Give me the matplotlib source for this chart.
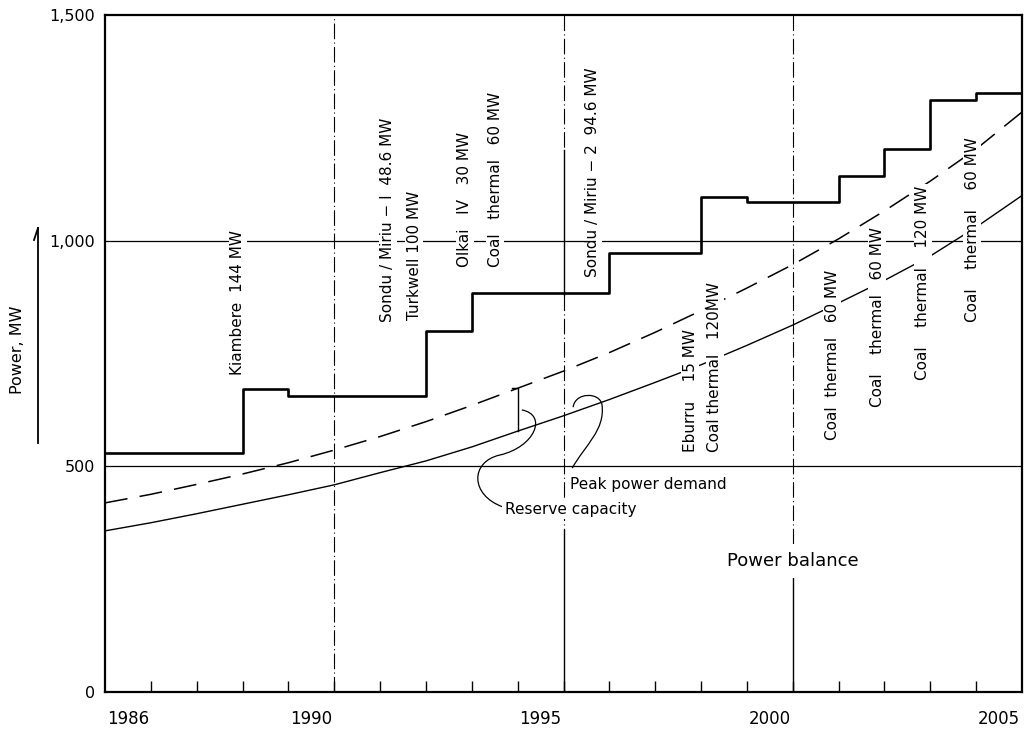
import matplotlib
matplotlib.use('Agg')
import matplotlib.pyplot as plt
from matplotlib.path import Path
from matplotlib.patches import PathPatch

# installed capacity, MW (value held through each year)
cap_years = [1986, 1987, 1988, 1989, 1990, 1991, 1992, 1993, 1994, 1995,
             1996, 1997, 1998, 1999, 2000, 2001, 2002, 2003, 2004, 2005]
cap_mw = [530, 530, 530, 671, 656, 656, 656, 800, 885, 885,
          885, 973, 973, 1097, 1086, 1086, 1143, 1203, 1312, 1327]

# demand forecast, MW, at the start of each year
dem_years = [1986, 1987, 1988, 1989, 1990, 1991, 1992, 1993, 1994, 1995, 1996,
             1997, 1998, 1999, 2000, 2001, 2002, 2003, 2004, 2005, 2006]
peak_mw = [357, 375, 395, 416, 437, 459, 486, 512, 543, 578, 612,
           648, 686, 725, 768, 813, 862, 912, 966, 1030, 1100]
reserve_mw = [419, 438, 460, 483, 508, 536, 566, 599, 635, 673, 711,
              752, 797, 845, 895, 947, 1004, 1066, 1132, 1203, 1285]

# generation additions
add_labels = ['Kiambere  144 MW',
              'Sondu / Miriu − I  48.6 MW',
              'Turkwell 100 MW',
              'Olkai   IV   30 MW',
              'Coal   thermal   60 MW',
              'Sondu / Miriu − 2  94.6 MW',
              'Eburru    15 MW',
              'Coal thermal   120MW',
              'Coal  thermal   60 MW',
              'Coal    thermal   60 MW',
              'Coal    thermal    120 MW',
              'Coal    thermal    60 MW']
add_pos = [(1988.90, 702), (1992.17, 820), (1992.74, 824), (1993.85, 942),
           (1994.51, 942), (1996.64, 920), (1998.76, 532), (1999.30, 532),
           (2001.86, 558), (2002.84, 631), (2003.84, 691), (2004.91, 820)]

tick_years = [1986, 1990, 1995, 2000, 2005]

fig = plt.figure(figsize=(10.31, 7.33), dpi=100)
ax = fig.add_axes([105/1031, 41/733, 917/1031, 677/733])
ax.set_xlim(1986, 2006)
ax.set_ylim(0, 1500)

# grid
dashdot = (0, (14, 3, 1, 3))
for v in (500, 1000):
    ax.axhline(v, color='black', lw=0.9, zorder=1)
ax.axvline(1991, color='black', lw=0.8, ls=dashdot, zorder=1)
ax.plot([1996, 1996], [1500, 1200], color='black', lw=0.8, ls=dashdot)
ax.plot([1996, 1996], [1200, 880], color='black', lw=1.0)
ax.plot([1996, 1996], [880, 360], color='black', lw=0.8, ls=dashdot)
ax.plot([1996, 1996], [360, 0], color='black', lw=1.0)
ax.plot([2001, 2001], [1500, 300], color='black', lw=0.8, ls=dashdot)
ax.plot([2001, 2001], [300, 0], color='black', lw=1.0)

# capacity steps and demand curves
ax.step(cap_years + [2006], cap_mw + [cap_mw[-1]], where='post',
        color='black', lw=1.9, zorder=2)
ax.plot(dem_years, peak_mw, color='black', lw=1.0, zorder=2)
ax.plot(dem_years, reserve_mw, color='black', lw=1.1, ls=(0, (15, 8)), zorder=2)

# reserve margin bracket at 1995
i95 = dem_years.index(1995)
ax.plot([1994.88, 1995, 1995], [reserve_mw[i95], reserve_mw[i95], peak_mw[i95]],
        color='black', lw=1.0, zorder=2)

for txt, (x, y) in zip(add_labels, add_pos):
    ax.text(x, y, txt, rotation=90, ha='center', va='bottom', fontsize=11,
            bbox=dict(facecolor='white', edgecolor='none', pad=1.2), zorder=3)

# leader lines
reserve_leader = [(1994.68, 410), (1993.96, 436), (1993.96, 510), (1994.61, 525),
                  (1995.38, 543), (1995.66, 614), (1995.09, 625)]
peak_leader = [(1996.19, 496), (1996.47, 547), (1996.91, 580), (1996.84, 636),
               (1996.80, 665), (1996.25, 665), (1996.21, 631)]
codes = [Path.MOVETO] + [Path.CURVE4] * 6
for pts in (reserve_leader, peak_leader):
    ax.add_patch(PathPatch(Path(pts, codes), facecolor='none', edgecolor='black',
                           lw=0.9, zorder=2))
ax.text(1994.72, 405, 'Reserve capacity', fontsize=11, va='center', ha='left',
        bbox=dict(facecolor='white', edgecolor='none', pad=2), zorder=3)
ax.text(1996.15, 460, 'Peak power demand', fontsize=11, va='center', ha='left')
ax.text(1999.57, 290, 'Power balance', fontsize=13, va='center', ha='left',
        bbox=dict(facecolor='white', edgecolor='none', pad=6), zorder=3)

# axes
for s in ax.spines.values():
    s.set_linewidth(1.6)
ax.set_yticks([0, 500, 1000, 1500])
ax.set_yticklabels(['0', '500', '1,000', '1,500'], fontsize=11.5)
ax.tick_params(axis='y', length=0, pad=7)
ax.set_xticks([y + 0.5 for y in tick_years])
ax.set_xticklabels([str(y) for y in tick_years], fontsize=12)
ax.tick_params(axis='x', length=0, pad=13)
ax.set_xticks(list(range(1987, 2006)), minor=True)
ax.tick_params(axis='x', which='minor', direction='in', length=8, width=1.0)

fig.text(18/1031, 1 - 350/733, 'Power, MW', rotation=90, ha='center', va='center',
         fontsize=11.5)
fig.add_artist(plt.Line2D([38/1031, 38/1031], [1 - 443/733, 1 - 228/733],
                          color='black', lw=1.3))
fig.add_artist(plt.Line2D([38/1031, 34/1031], [1 - 228/733, 1 - 240/733],
                          color='black', lw=1.3))

fig.savefig('out.png', dpi=100)
